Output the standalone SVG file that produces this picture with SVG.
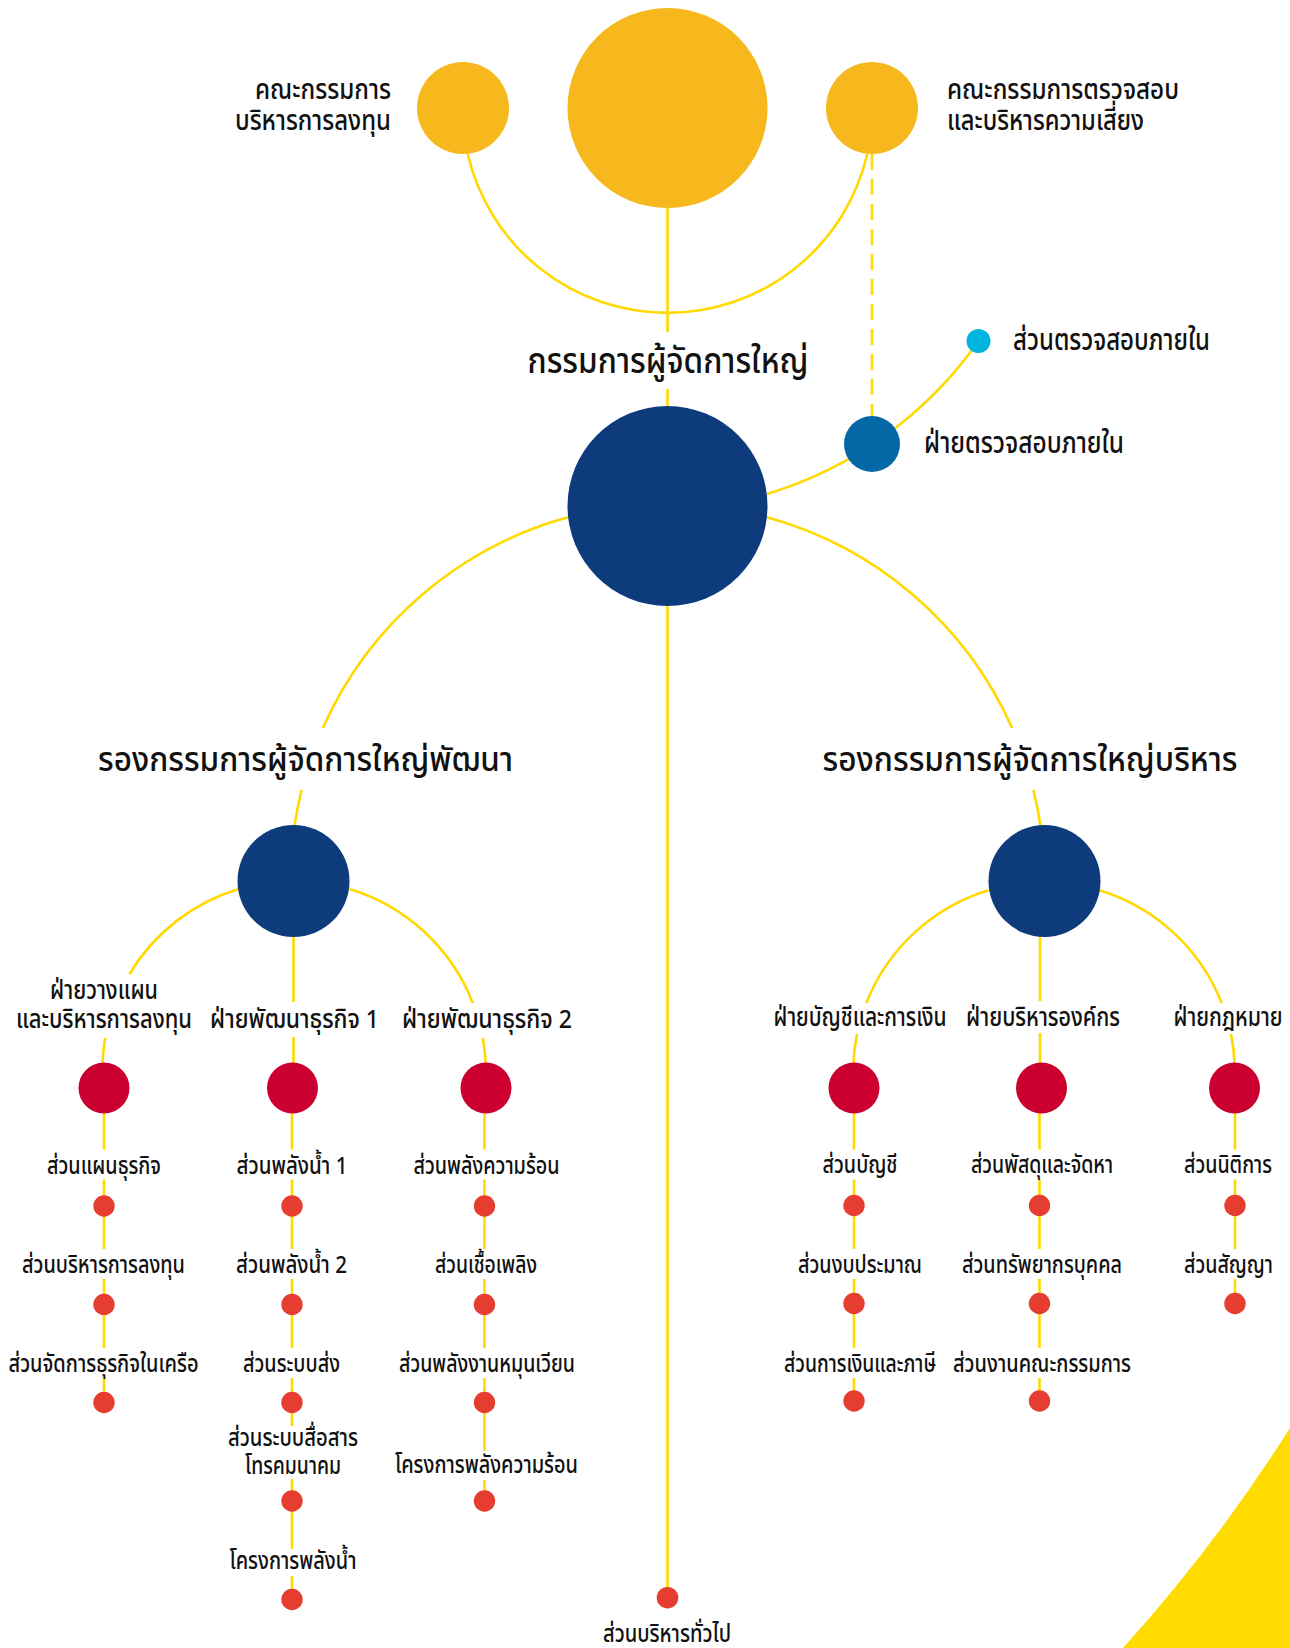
<svg xmlns="http://www.w3.org/2000/svg" width="1290" height="1648" viewBox="0 0 1290 1648">
<style>
.ln{fill:none;stroke:#FFD900;stroke-width:2.6}
.dash{stroke-dasharray:16 9}
.t{font-family:"Noto Sans Thai","Noto Sans","DejaVu Sans",sans-serif;fill:#111;font-weight:500}
.s24{font-size:24px}
.s26{font-size:26px}
.s28{font-size:28px}
.s30{font-size:30px}
.s34{font-size:34px}
.s36{font-size:36px}
.m{text-anchor:middle}
.e{text-anchor:end}
.gold{fill:#F6B81C}
.navy{fill:#0E3B7C}
.blue{fill:#0568A6}
.cyan{fill:#00B4E0}
.crim{fill:#CC0030}
.dot{fill:#E53E30}
</style>
<rect width="1290" height="1648" fill="#FFFFFF"/>
<path d="M1290,1428 Q1216,1545 1123,1648 L1290,1648 Z" fill="#FFDB00"/>
<g id="connectors">
<path class="ln" d="M467.7,153.8 A205,205 0 0,0 867.3,153.8"/>
<path class="ln" d="M667.5,208 V332 M667.5,389 V1590"/>
<path class="ln dash" d="M872,154 V416"/>
<path class="ln" d="M767,494 A399,399 0 0,0 978.5,341"/>
<path class="ln" d="M568.1,517.3 A377,377 0 0,0 322.9,728 M301.6,790 A377,377 0 0,0 294.5,826"/>
<path class="ln" d="M766.9,517.3 A377,377 0 0,1 1012.1,728 M1033.4,790 A377,377 0 0,1 1040.5,826"/>
<path class="ln" d="M238.5,889 A192,192 0 0,0 129.5,974 M105.2,1038 A192,192 0 0,0 102.3,1066"/>
<path class="ln" d="M349.5,889 A192,192 0 0,1 472.8,1003 M482.8,1038 A192,192 0 0,1 485.7,1066"/>
<path class="ln" d="M293.5,937 V1002 M293.5,1037 V1066"/>
<path class="ln" d="M988.6,890.2 A191,191 0 0,0 866.3,1003 M857,1034 A191,191 0 0,0 853.3,1066"/>
<path class="ln" d="M1099.4,890.2 A191,191 0 0,1 1221.7,1003 M1231,1034 A191,191 0 0,1 1234.7,1066"/>
<path class="ln" d="M1040,937 V1001 M1040,1033 V1066"/>
<path class="ln" d="M104,1088 V1149.5 M104,1179.5 V1249 M104,1279 V1348 M104,1378 V1402.5"/>
<path class="ln" d="M292,1088 V1149.5 M292,1179.5 V1249 M292,1279 V1348 M292,1378 V1426 M292,1479 V1549 M292,1576 V1599.5"/>
<path class="ln" d="M484.5,1088 V1149.5 M484.5,1179.5 V1249 M484.5,1279 V1348 M484.5,1378 V1451 M484.5,1480 V1501"/>
<path class="ln" d="M854,1088 V1149.5 M854,1179.5 V1249 M854,1279 V1348 M854,1378 V1401"/>
<path class="ln" d="M1039.5,1088 V1149.5 M1039.5,1179.5 V1249 M1039.5,1279 V1348 M1039.5,1378 V1401"/>
<path class="ln" d="M1235,1088 V1149.5 M1235,1179.5 V1249 M1235,1279 V1303.5"/>
</g>
<g id="board-investment">
<circle class="gold" cx="463" cy="108" r="46"/>
<text class="t s28 e" x="391" y="99" textLength="136" lengthAdjust="spacingAndGlyphs">คณะกรรมการ</text>
<text class="t s28 e" x="391" y="129.5" textLength="156" lengthAdjust="spacingAndGlyphs">บริหารการลงทุน</text>
</g>
<g id="board">
<circle class="gold" cx="667.5" cy="108" r="100"/>
</g>
<g id="board-audit">
<circle class="gold" cx="872" cy="108" r="46"/>
<text class="t s28" x="947" y="99" textLength="232" lengthAdjust="spacingAndGlyphs">คณะกรรมการตรวจสอบ</text>
<text class="t s28" x="947" y="129.5" textLength="197" lengthAdjust="spacingAndGlyphs">และบริหารความเสี่ยง</text>
</g>
<g id="ceo">
<circle class="navy" cx="667.5" cy="506" r="100"/>
<text class="t s36 m" x="668" y="373" textLength="281" lengthAdjust="spacingAndGlyphs">กรรมการผู้จัดการใหญ่</text>
</g>
<g id="internal-audit-dept">
<circle class="blue" cx="872" cy="444" r="28"/>
<text class="t s30" x="924" y="453" textLength="200" lengthAdjust="spacingAndGlyphs">ฝ่ายตรวจสอบภายใน</text>
</g>
<g id="internal-audit-section">
<circle class="cyan" cx="978.5" cy="341" r="12"/>
<text class="t s30" x="1013" y="350" textLength="197" lengthAdjust="spacingAndGlyphs">ส่วนตรวจสอบภายใน</text>
</g>
<g id="svp-dev">
<circle class="navy" cx="293.5" cy="881" r="56"/>
<text class="t s34 m" x="305.5" y="771" textLength="415" lengthAdjust="spacingAndGlyphs">รองกรรมการผู้จัดการใหญ่พัฒนา</text>
</g>
<g id="svp-admin">
<circle class="navy" cx="1044.5" cy="881" r="56"/>
<text class="t s34 m" x="1030" y="771" textLength="415" lengthAdjust="spacingAndGlyphs">รองกรรมการผู้จัดการใหญ่บริหาร</text>
</g>
<g id="dept-planning">
<circle class="crim" cx="104" cy="1088" r="25.5"/>
<text class="t s26 m" x="104" y="999" textLength="108" lengthAdjust="spacingAndGlyphs">ฝ่ายวางแผน</text>
<text class="t s26 m" x="104" y="1028" textLength="176" lengthAdjust="spacingAndGlyphs">และบริหารการลงทุน</text>
</g>
<g id="dept-bizdev1">
<circle class="crim" cx="292.5" cy="1088" r="25.5"/>
<text class="t s26 m" x="294.5" y="1028" textLength="169" lengthAdjust="spacingAndGlyphs">ฝ่ายพัฒนาธุรกิจ 1</text>
</g>
<g id="dept-bizdev2">
<circle class="crim" cx="486" cy="1088" r="25.5"/>
<text class="t s26 m" x="487" y="1028" textLength="170" lengthAdjust="spacingAndGlyphs">ฝ่ายพัฒนาธุรกิจ 2</text>
</g>
<g id="dept-finance">
<circle class="crim" cx="854" cy="1088" r="25.5"/>
<text class="t s26 m" x="860" y="1026" textLength="173" lengthAdjust="spacingAndGlyphs">ฝ่ายบัญชีและการเงิน</text>
</g>
<g id="dept-corporate">
<circle class="crim" cx="1041.5" cy="1088" r="25.5"/>
<text class="t s26 m" x="1043" y="1026" textLength="154" lengthAdjust="spacingAndGlyphs">ฝ่ายบริหารองค์กร</text>
</g>
<g id="dept-legal">
<circle class="crim" cx="1234.5" cy="1088" r="25.5"/>
<text class="t s26 m" x="1228" y="1026" textLength="109" lengthAdjust="spacingAndGlyphs">ฝ่ายกฎหมาย</text>
</g>
<g id="sec-bizplan"><circle class="dot" cx="104" cy="1206" r="10.7"/><text class="t s24 m" x="104" y="1173.5" textLength="114" lengthAdjust="spacingAndGlyphs">ส่วนแผนธุรกิจ</text></g>
<g id="sec-invest"><circle class="dot" cx="104" cy="1304.5" r="10.7"/><text class="t s24 m" x="103.5" y="1273" textLength="163" lengthAdjust="spacingAndGlyphs">ส่วนบริหารการลงทุน</text></g>
<g id="sec-affiliates"><circle class="dot" cx="104" cy="1402.5" r="10.7"/><text class="t s24 m" x="103.5" y="1372" textLength="190" lengthAdjust="spacingAndGlyphs">ส่วนจัดการธุรกิจในเครือ</text></g>
<g id="sec-hydro1"><circle class="dot" cx="292" cy="1206" r="10.7"/><text class="t s24 m" x="292" y="1173.5" textLength="111" lengthAdjust="spacingAndGlyphs">ส่วนพลังน้ำ 1</text></g>
<g id="sec-hydro2"><circle class="dot" cx="292" cy="1304.5" r="10.7"/><text class="t s24 m" x="291.5" y="1273" textLength="111" lengthAdjust="spacingAndGlyphs">ส่วนพลังน้ำ 2</text></g>
<g id="sec-transmission"><circle class="dot" cx="292" cy="1402.5" r="10.7"/><text class="t s24 m" x="291.5" y="1372" textLength="97" lengthAdjust="spacingAndGlyphs">ส่วนระบบส่ง</text></g>
<g id="sec-telecom"><circle class="dot" cx="292" cy="1501" r="10.7"/><text class="t s24 m" x="293" y="1446" textLength="130" lengthAdjust="spacingAndGlyphs">ส่วนระบบสื่อสาร</text><text class="t s24 m" x="293" y="1474" textLength="96" lengthAdjust="spacingAndGlyphs">โทรคมนาคม</text></g>
<g id="proj-hydro"><circle class="dot" cx="292" cy="1599.5" r="10.7"/><text class="t s24 m" x="293" y="1569" textLength="127" lengthAdjust="spacingAndGlyphs">โครงการพลังน้ำ</text></g>
<g id="sec-thermal"><circle class="dot" cx="484.5" cy="1206" r="10.7"/><text class="t s24 m" x="486.5" y="1173.5" textLength="146" lengthAdjust="spacingAndGlyphs">ส่วนพลังความร้อน</text></g>
<g id="sec-fuel"><circle class="dot" cx="484.5" cy="1304.5" r="10.7"/><text class="t s24 m" x="486" y="1273" textLength="102" lengthAdjust="spacingAndGlyphs">ส่วนเชื้อเพลิง</text></g>
<g id="sec-renewable"><circle class="dot" cx="484.5" cy="1402.5" r="10.7"/><text class="t s24 m" x="487" y="1372" textLength="176" lengthAdjust="spacingAndGlyphs">ส่วนพลังงานหมุนเวียน</text></g>
<g id="proj-thermal"><circle class="dot" cx="484.5" cy="1501" r="10.7"/><text class="t s24 m" x="486.5" y="1473" textLength="183" lengthAdjust="spacingAndGlyphs">โครงการพลังความร้อน</text></g>
<g id="sec-accounting"><circle class="dot" cx="854" cy="1205.5" r="10.7"/><text class="t s24 m" x="860" y="1173" textLength="75" lengthAdjust="spacingAndGlyphs">ส่วนบัญชี</text></g>
<g id="sec-budget"><circle class="dot" cx="854" cy="1303.5" r="10.7"/><text class="t s24 m" x="860" y="1272.5" textLength="124" lengthAdjust="spacingAndGlyphs">ส่วนงบประมาณ</text></g>
<g id="sec-treasury"><circle class="dot" cx="854" cy="1401" r="10.7"/><text class="t s24 m" x="860" y="1371.5" textLength="152" lengthAdjust="spacingAndGlyphs">ส่วนการเงินและภาษี</text></g>
<g id="sec-procurement"><circle class="dot" cx="1039.5" cy="1205.5" r="10.7"/><text class="t s24 m" x="1042" y="1173" textLength="142" lengthAdjust="spacingAndGlyphs">ส่วนพัสดุและจัดหา</text></g>
<g id="sec-hr"><circle class="dot" cx="1039.5" cy="1303.5" r="10.7"/><text class="t s24 m" x="1042" y="1272.5" textLength="160" lengthAdjust="spacingAndGlyphs">ส่วนทรัพยากรบุคคล</text></g>
<g id="sec-board-affairs"><circle class="dot" cx="1039.5" cy="1401" r="10.7"/><text class="t s24 m" x="1042" y="1371.5" textLength="178" lengthAdjust="spacingAndGlyphs">ส่วนงานคณะกรรมการ</text></g>
<g id="sec-litigation"><circle class="dot" cx="1235" cy="1205.5" r="10.7"/><text class="t s24 m" x="1228" y="1173" textLength="88" lengthAdjust="spacingAndGlyphs">ส่วนนิติการ</text></g>
<g id="sec-contracts"><circle class="dot" cx="1235" cy="1303.5" r="10.7"/><text class="t s24 m" x="1228.5" y="1272.5" textLength="89" lengthAdjust="spacingAndGlyphs">ส่วนสัญญา</text></g>
<g id="sec-general-admin"><circle class="dot" cx="667.5" cy="1597.7" r="10.8"/><text class="t s24 m" x="667" y="1642" textLength="128" lengthAdjust="spacingAndGlyphs">ส่วนบริหารทั่วไป</text></g>
</svg>
